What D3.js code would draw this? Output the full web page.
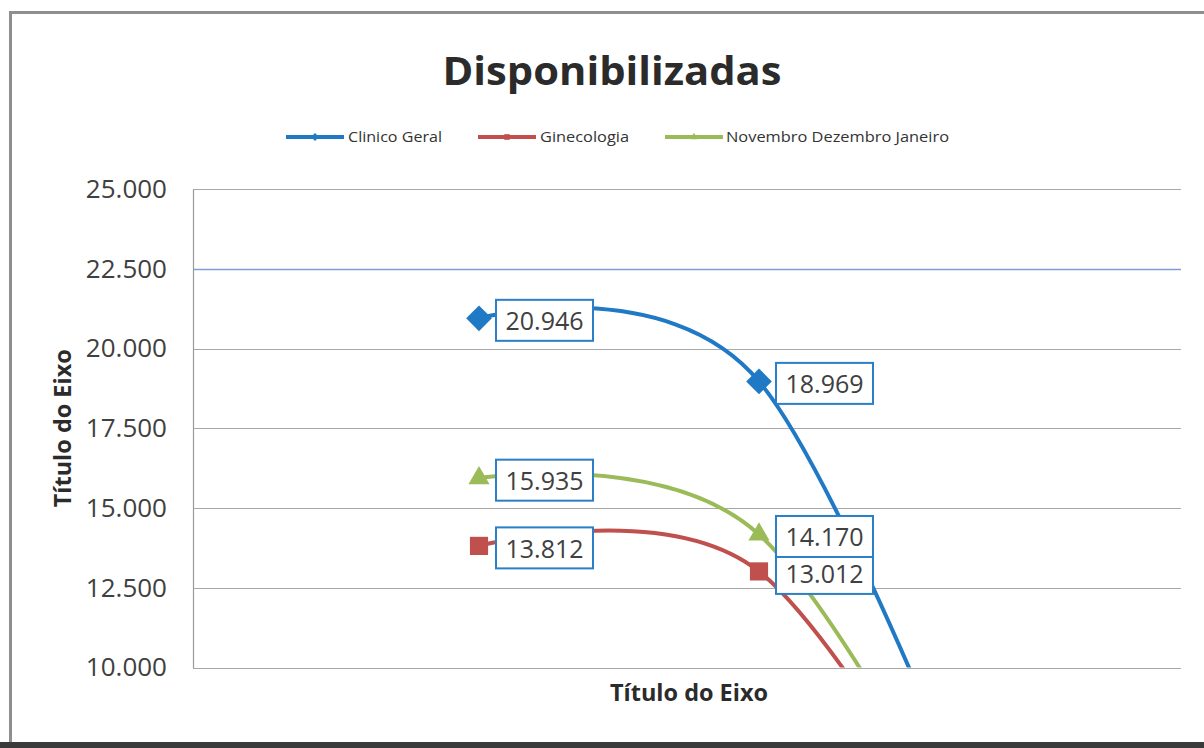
<!DOCTYPE html>
<html lang="pt-BR">
<head>
<meta charset="utf-8">
<title>Disponibilizadas</title>
<script src="https://cdn.jsdelivr.net/npm/d3@7"></script>
<style>
  html, body { margin: 0; padding: 0; background: #ffffff; }
  svg { display: block; font-family: "Open Sans", "Noto Sans", sans-serif; }
</style>
</head>
<body>
<svg id="chart" width="1204" height="748"></svg>
<script>
// Months on the category axis and the series drawn over them
const categories = ["Novembro", "Dezembro", "Janeiro"];
const seriesNames = ["Clinico Geral", "Ginecologia", "Novembro Dezembro Janeiro"];
const clinicoGeral = [20946, 18969, 0];
const ginecologia = [13812, 13012, 0];
const novDezJan = [15935, 14170, 0];
const yTicks = [10000, 12500, 15000, 17500, 20000, 22500, 25000];

const seriesColors = ["#2079c4", "#c0504d", "#9bbb59"];
const seriesMarkers = [d3.symbolDiamond2, d3.symbolSquare2, d3.symbolTriangle2];

const series = seriesNames.map((name, i) => ({
  name,
  values: [clinicoGeral, ginecologia, novDezJan][i],
  color: seriesColors[i],
  marker: seriesMarkers[i]
}));

const ptBR = d3.formatLocale({ decimal: ",", thousands: ".", grouping: [3], currency: ["R$ ", ""] });
const fmt = ptBR.format(",.0f");

const svg = d3.select("#chart");

// Chart frame
svg.append("rect")
  .attr("x", 10.5).attr("y", 12.5)
  .attr("width", 1240).attr("height", 732)
  .attr("fill", "#ffffff")
  .attr("stroke", "#8f8f8f").attr("stroke-width", 3);
svg.append("rect")
  .attr("x", 0).attr("y", 742)
  .attr("width", 1204).attr("height", 6)
  .attr("fill", "#3a3a3a");

// Plot area
const plot = { left: 193, right: 1181, top: 189, bottom: 667.5 };

const y = d3.scaleLinear()
  .domain([10000, 25000])
  .range([plot.bottom, plot.top]);

const x = d3.scalePoint()
  .domain(categories)
  .range([plot.left + 286, plot.left + 846]);

// Horizontal gridlines
svg.append("g")
  .selectAll("line")
  .data(yTicks)
  .join("line")
  .attr("x1", plot.left).attr("x2", plot.right)
  .attr("y1", d => Math.round(y(d)) + 0.5)
  .attr("y2", d => Math.round(y(d)) + 0.5)
  .attr("stroke", d => d === 22500 ? "#7f9fd2" : "#a8a8a8")
  .attr("stroke-width", d => d === 22500 ? 1.6 : 1.2);

// Value axis
const yAxis = d3.axisLeft(y)
  .tickValues(yTicks)
  .tickSize(0)
  .tickPadding(26)
  .tickFormat(fmt);
const yAxisG = svg.append("g")
  .attr("transform", `translate(${plot.left},0)`)
  .call(yAxis);
yAxisG.select(".domain").attr("stroke", "#9a9a9a").attr("stroke-width", 1.2);
yAxisG.selectAll("text")
  .attr("font-size", 26)
  .attr("fill", "#404040")
  .attr("font-family", "'Open Sans', sans-serif");

// Title
svg.append("text")
  .attr("x", 612).attr("y", 85)
  .attr("text-anchor", "middle")
  .attr("font-size", 40)
  .attr("font-weight", 700)
  .attr("fill", "#2b2b2b")
  .attr("textLength", 339)
  .attr("lengthAdjust", "spacingAndGlyphs")
  .text("Disponibilizadas");

// Axis titles
svg.append("text")
  .attr("transform", `translate(71,${(plot.top + plot.bottom) / 2}) rotate(-90)`)
  .attr("text-anchor", "middle")
  .attr("font-size", 23)
  .attr("font-weight", 700)
  .attr("fill", "#2b2b2b")
  .attr("textLength", 158)
  .attr("lengthAdjust", "spacingAndGlyphs")
  .text("Título do Eixo");
svg.append("text")
  .attr("x", 689).attr("y", 701)
  .attr("text-anchor", "middle")
  .attr("font-size", 23)
  .attr("font-weight", 700)
  .attr("fill", "#2b2b2b")
  .attr("textLength", 158)
  .attr("lengthAdjust", "spacingAndGlyphs")
  .text("Título do Eixo");

// Legend
const legendItems = [
  { x: 286, textX: 348, textW: 94 },
  { x: 478, textX: 540, textW: 89 },
  { x: 665, textX: 726, textW: 223 }
];
const legendY = 137;
const legend = svg.append("g");
series.forEach((s, i) => {
  const li = legendItems[i];
  legend.append("line")
    .attr("x1", li.x).attr("x2", li.x + 58)
    .attr("y1", legendY).attr("y2", legendY)
    .attr("stroke", s.color).attr("stroke-width", 4);
  legend.append("path")
    .attr("transform", `translate(${li.x + 29},${legendY})`)
    .attr("d", d3.symbol().type(s.marker).size(40)())
    .attr("fill", s.color);
  legend.append("text")
    .attr("x", li.textX).attr("y", legendY + 5)
    .attr("font-size", 15)
    .attr("fill", "#333333")
    .attr("textLength", li.textW)
    .attr("lengthAdjust", "spacingAndGlyphs")
    .text(s.name);
});

// Smoothed series lines, clipped to the plot area
svg.append("clipPath").attr("id", "plot-clip")
  .append("rect")
  .attr("x", plot.left).attr("y", plot.top - 2)
  .attr("width", plot.right - plot.left)
  .attr("height", plot.bottom - plot.top + 2);

const line = d3.line()
  .x((d, i) => x(categories[i]))
  .y(d => y(d))
  .curve(d3.curveCardinal.tension(0));

const lines = svg.append("g").attr("clip-path", "url(#plot-clip)");
series.forEach(s => {
  lines.append("path")
    .attr("d", line(s.values))
    .attr("fill", "none")
    .attr("stroke", s.color)
    .attr("stroke-width", 4)
    .attr("stroke-linecap", "round");
});

// Markers for the points inside the value range
const [yMin, yMax] = y.domain();
series.forEach(s => {
  const pts = s.values
    .map((v, i) => ({ v, c: categories[i] }))
    .filter(p => p.v >= yMin && p.v <= yMax);
  svg.append("g")
    .selectAll("path")
    .data(pts)
    .join("path")
    .attr("transform", p => `translate(${x(p.c)},${y(p.v)})`)
    .attr("d", d3.symbol().type(s.marker).size(s.marker === d3.symbolTriangle2 ? 320 : 420)())
    .attr("fill", s.color);
  s.pts = pts;
});

// Data labels
const labels = svg.append("g");
series.forEach(s => {
  s.pts.forEach(p => {
    const cx = x(p.c) + 17;
    const cy = y(p.v) + 2;
    labels.append("rect")
      .attr("x", cx).attr("y", cy - 20.5)
      .attr("width", 97).attr("height", 41)
      .attr("fill", "#ffffff")
      .attr("stroke", "#2a7fc6")
      .attr("stroke-width", 2);
    labels.append("text")
      .attr("x", cx + 48.5).attr("y", cy)
      .attr("text-anchor", "middle")
      .attr("dominant-baseline", "central")
      .attr("font-size", 25)
      .attr("fill", "#404040")
      .text(fmt(p.v));
  });
});
</script>
</body>
</html>
